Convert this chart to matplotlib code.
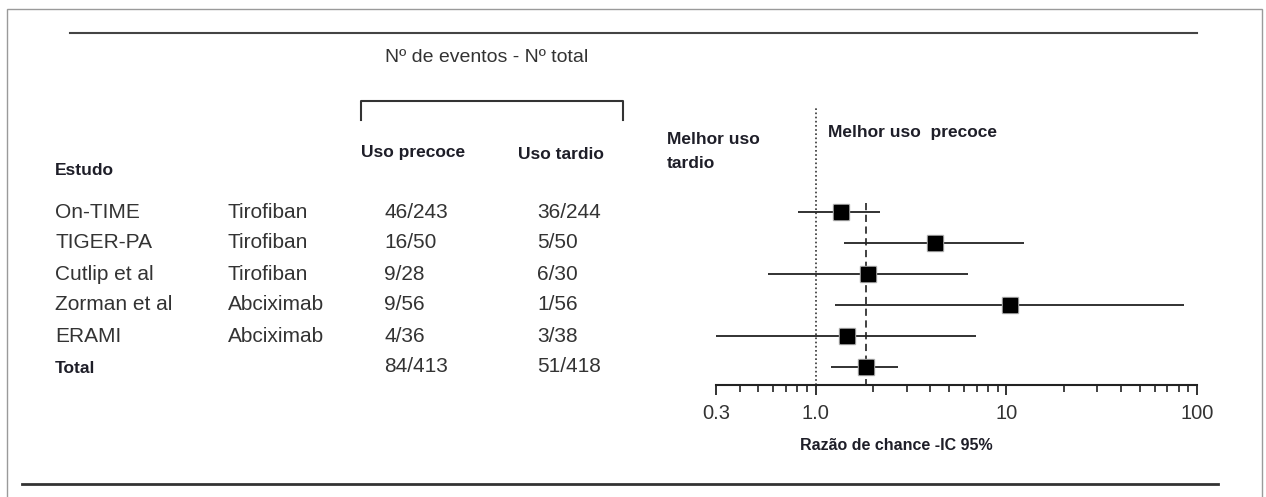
import matplotlib.pyplot as plt
import matplotlib.transforms as mtransforms
from matplotlib.lines import Line2D
from matplotlib.patches import Rectangle
from matplotlib.ticker import FixedLocator, NullFormatter

plt.rcParams['font.family'] = ['Liberation Sans', 'DejaVu Sans']

# forest plot data
studies = ['On-TIME', 'TIGER-PA', 'Cutlip et al', 'Zorman et al', 'ERAMI', 'Total']
drugs = ['Tirofiban', 'Tirofiban', 'Tirofiban', 'Abciximab', 'Abciximab', '']
early = ['46/243', '16/50', '9/28', '9/56', '4/36', '84/413']
late = ['36/244', '5/50', '6/30', '1/56', '3/38', '51/418']
odds_ratio = [1.35, 4.24, 1.89, 10.5, 1.46, 1.84]
ci_low = [0.81, 1.40, 0.56, 1.27, 0.30, 1.21]
ci_high = [2.18, 12.4, 6.3, 85.0, 6.9, 2.71]

tick_values = [0.3, 1.0, 10, 100]
tick_labels = ['0.3', '1.0', '10', '100']
minor_ticks = [0.4, 0.5, 0.6, 0.7, 0.8, 0.9,
               2, 3, 4, 5, 6, 7, 8, 9,
               20, 30, 40, 50, 60, 70, 80, 90]

W, H = 1266, 497
fig = plt.figure(figsize=(W / 100, H / 100), dpi=100)


def fx(px):
    return px / W


def fy(py):
    return 1 - py / H


# rows are placed 31 px apart, first row at y=212 px
row0, step = 212, 31
y_bottom = (385 - row0) / step
y_top = (108 - row0) / step

ax = fig.add_axes([fx(716), fy(385), fx(1197) - fx(716), (385 - 108) / H])
ax.set_xscale('log')
ax.set_xlim(0.3, 100)
ax.set_ylim(y_bottom, y_top)
ax.patch.set_alpha(0)
for s in ['top', 'right', 'left']:
    ax.spines[s].set_visible(False)
ax.spines['bottom'].set_linewidth(1.5)
ax.spines['bottom'].set_color('#222222')
ax.set_yticks([])
ax.xaxis.set_major_locator(FixedLocator(tick_values))
ax.xaxis.set_minor_locator(FixedLocator(minor_ticks))
ax.xaxis.set_minor_formatter(NullFormatter())
ax.set_xticklabels(tick_labels)
ax.tick_params(axis='x', which='major', length=7.5, width=1.3, color='#222222',
               labelsize=14.5, labelcolor='#333333', pad=6.5)
ax.tick_params(axis='x', which='minor', length=5, width=1.2, color='#222222')

rows = list(range(len(studies)))

# reference line at OR = 1 and pooled estimate
ax.axvline(1.0, color='#333333', lw=1.2, ls=(0, (1, 1.5)))
ax.vlines(odds_ratio[-1], -0.3, y_bottom, color='#333333', lw=1.3, ls=(0, (4, 2.5)))

ax.hlines(rows, ci_low, ci_high, color='#222222', lw=1.3)
ax.plot(odds_ratio, rows, 's', ms=11.5, color='#b0b0b0', ls='none')
ax.plot(odds_ratio, rows, 's', ms=9.5, color='black', ls='none')

# table columns share the row positions of the forest axes
tr = mtransforms.blended_transform_factory(fig.transFigure, ax.transData)
reg = dict(fontsize=15, color='#333333', va='center', transform=tr)
bold = dict(fontsize=12.5, color='#1e1e28', fontweight='bold')

for i in rows:
    if studies[i] == 'Total':
        fig.text(fx(55), i + 0.05, studies[i], va='center', transform=tr, **bold)
    else:
        fig.text(fx(55), i, studies[i], **reg)
    fig.text(fx(228), i, drugs[i], **reg)
    fig.text(fx(384), i, early[i], **reg)
    fig.text(fx(537), i, late[i], **reg)

# headers
fig.text(fx(55), fy(171), 'Estudo', va='center', **bold)
fig.text(fx(385), fy(58), 'Nº de eventos - Nº total', fontsize=14,
         color='#333333', va='center')
fig.text(fx(361), fy(153), 'Uso precoce', va='center', **bold)
fig.text(fx(518), fy(155), 'Uso tardio', va='center', **bold)
fig.text(fx(667), fy(151), 'Melhor uso\ntardio', va='center', linespacing=1.75, **bold)
fig.text(fx(828), fy(133), 'Melhor uso  precoce', va='center', **bold)
fig.text(fx(800), fy(446), 'Razão de chance -IC 95%', va='center',
         fontsize=11.5, color='#1e1e28', fontweight='bold')

# bracket over the count columns
fig.add_artist(Line2D([fx(361), fx(361), fx(623), fx(623)],
                      [fy(120), fy(101), fy(101), fy(120)],
                      color='#333333', lw=1.5))

# rules and frame
fig.add_artist(Line2D([fx(70), fx(1197)], [fy(33), fy(33)], color='#444444', lw=1.5))
fig.add_artist(Line2D([fx(22), fx(1218)], [fy(484), fy(484)], color='#333333', lw=2))
fig.add_artist(Rectangle((fx(7), -0.05), fx(1262) - fx(7), fy(9) + 0.05,
                         transform=fig.transFigure, fill=False,
                         edgecolor='#9a9a9a', lw=1))

fig.savefig('out.png', dpi=100)
